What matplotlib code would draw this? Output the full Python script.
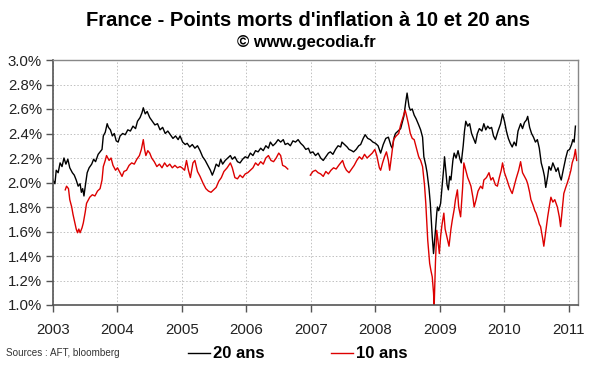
import numpy as np
import matplotlib
matplotlib.use("Agg")
from matplotlib import pyplot as plt

plt.rcParams['font.family'] = ['Liberation Sans', 'DejaVu Sans']

# point mort 20 ans (year, %)
years_20 = [
    2003.00, 2003.03, 2003.05, 2003.08, 2003.11, 2003.14, 2003.17, 2003.20, 2003.23, 2003.26,
    2003.30, 2003.33, 2003.36, 2003.39, 2003.42, 2003.44, 2003.46, 2003.48, 2003.50, 2003.53,
    2003.56, 2003.60, 2003.63, 2003.66, 2003.70, 2003.73, 2003.76, 2003.78, 2003.81, 2003.84,
    2003.86, 2003.89, 2003.92, 2003.95, 2003.98, 2004.01, 2004.04, 2004.08, 2004.12, 2004.16,
    2004.20, 2004.24, 2004.28, 2004.31, 2004.35, 2004.38, 2004.40, 2004.43, 2004.46, 2004.50,
    2004.54, 2004.58, 2004.62, 2004.66, 2004.70, 2004.74, 2004.78, 2004.82, 2004.86, 2004.90,
    2004.94, 2004.97, 2005.01, 2005.05, 2005.08, 2005.12, 2005.16, 2005.20, 2005.24, 2005.28,
    2005.32, 2005.36, 2005.40, 2005.44, 2005.47, 2005.50, 2005.53, 2005.57, 2005.60, 2005.63,
    2005.67, 2005.71, 2005.75, 2005.78, 2005.82, 2005.86, 2005.90, 2005.94, 2005.98, 2006.02,
    2006.06, 2006.10, 2006.14, 2006.18, 2006.22, 2006.26, 2006.30, 2006.34, 2006.37, 2006.41,
    2006.45, 2006.49, 2006.53, 2006.57, 2006.60, 2006.64, 2006.68, 2006.72, 2006.76, 2006.80,
    2006.84, 2006.88, 2006.92, 2006.96, 2006.99, 2007.03, 2007.07, 2007.11, 2007.15, 2007.19,
    2007.23, 2007.27, 2007.30, 2007.34, 2007.38, 2007.42, 2007.46, 2007.48, 2007.52, 2007.56,
    2007.59, 2007.63, 2007.66, 2007.70, 2007.74, 2007.77, 2007.81, 2007.84, 2007.88, 2007.92,
    2007.96, 2008.00, 2008.04, 2008.08, 2008.12, 2008.16, 2008.20, 2008.24, 2008.26, 2008.29,
    2008.31, 2008.35, 2008.39, 2008.42, 2008.44, 2008.47, 2008.49, 2008.52, 2008.54, 2008.57,
    2008.60, 2008.63, 2008.67, 2008.70, 2008.73, 2008.75, 2008.78, 2008.80, 2008.83, 2008.85,
    2008.87, 2008.88, 2008.90, 2008.91, 2008.93, 2008.95, 2008.96, 2008.98, 2009.01, 2009.03,
    2009.06, 2009.07, 2009.09, 2009.11, 2009.13, 2009.15, 2009.17, 2009.20, 2009.22, 2009.25,
    2009.28, 2009.31, 2009.33, 2009.36, 2009.38, 2009.40, 2009.43, 2009.46, 2009.49, 2009.52,
    2009.55, 2009.58, 2009.61, 2009.65, 2009.68, 2009.71, 2009.74, 2009.77, 2009.80, 2009.83,
    2009.86, 2009.90, 2009.94, 2009.97, 2010.00, 2010.03, 2010.06, 2010.09, 2010.12, 2010.15,
    2010.18, 2010.21, 2010.25, 2010.28, 2010.31, 2010.34, 2010.36, 2010.39, 2010.42, 2010.45,
    2010.48, 2010.51, 2010.54, 2010.57, 2010.60, 2010.62, 2010.64, 2010.67, 2010.69, 2010.72,
    2010.75, 2010.78, 2010.80, 2010.83, 2010.86, 2010.88, 2010.91, 2010.95, 2010.98, 2011.01,
    2011.04, 2011.06, 2011.08, 2011.10,
]
values_20 = [
    2.02, 1.99, 2.10, 2.08, 2.16, 2.13, 2.20, 2.15, 2.19, 2.12,
    2.08, 2.06, 2.02, 1.97, 1.99, 1.92, 1.95, 1.89, 1.97, 2.08,
    2.12, 2.15, 2.19, 2.17, 2.23, 2.25, 2.27, 2.38, 2.41, 2.48,
    2.45, 2.43, 2.38, 2.40, 2.34, 2.33, 2.38, 2.40, 2.39, 2.43,
    2.42, 2.46, 2.44, 2.50, 2.53, 2.57, 2.61, 2.56, 2.58, 2.53,
    2.50, 2.47, 2.48, 2.43, 2.45, 2.40, 2.42, 2.39, 2.36, 2.38,
    2.35, 2.38, 2.33, 2.31, 2.32, 2.29, 2.31, 2.28, 2.30, 2.26,
    2.21, 2.18, 2.14, 2.10, 2.06, 2.10, 2.15, 2.13, 2.19, 2.15,
    2.18, 2.20, 2.22, 2.19, 2.21, 2.17, 2.16, 2.19, 2.21, 2.20,
    2.24, 2.22, 2.26, 2.25, 2.28, 2.26, 2.30, 2.28, 2.33, 2.30,
    2.32, 2.35, 2.33, 2.35, 2.31, 2.32, 2.30, 2.34, 2.33, 2.35,
    2.32, 2.30, 2.27, 2.28, 2.24, 2.25, 2.22, 2.24, 2.20, 2.18,
    2.21, 2.24, 2.25, 2.23, 2.27, 2.30, 2.29, 2.33, 2.31, 2.29,
    2.27, 2.26, 2.25, 2.27, 2.30, 2.31, 2.36, 2.39, 2.36, 2.35,
    2.33, 2.32, 2.30, 2.24, 2.31, 2.36, 2.37, 2.30, 2.28, 2.37,
    2.40, 2.42, 2.44, 2.50, 2.54, 2.66, 2.73, 2.62, 2.59, 2.60,
    2.55, 2.52, 2.47, 2.43, 2.37, 2.21, 2.14, 2.08, 1.95, 1.83,
    1.65, 1.56, 1.42, 1.48, 1.61, 1.75, 1.80, 1.77, 1.83, 1.95,
    2.13, 2.21, 2.10, 1.98, 1.94, 2.05, 2.02, 2.18, 2.24, 2.20,
    2.26, 2.19, 2.16, 2.30, 2.42, 2.50, 2.46, 2.48, 2.40, 2.36,
    2.32, 2.40, 2.44, 2.42, 2.48, 2.43, 2.46, 2.44, 2.45, 2.38,
    2.35, 2.42, 2.48, 2.56, 2.50, 2.42, 2.36, 2.32, 2.29, 2.33,
    2.30, 2.42, 2.48, 2.44, 2.49, 2.51, 2.54, 2.45, 2.40, 2.37,
    2.33, 2.35, 2.28, 2.16, 2.10, 2.05, 1.96, 2.05, 2.13, 2.10,
    2.16, 2.12, 2.09, 2.12, 2.05, 2.02, 2.10, 2.20, 2.26, 2.27,
    2.31, 2.35, 2.33, 2.46,
]

# point mort 10 ans (year, %), nan = missing data
years_10 = [
    2003.19, 2003.21, 2003.24, 2003.26, 2003.29, 2003.31, 2003.34, 2003.36, 2003.38, 2003.40,
    2003.42, 2003.45, 2003.47, 2003.50, 2003.52, 2003.55, 2003.57, 2003.61, 2003.65, 2003.69,
    2003.73, 2003.76, 2003.78, 2003.81, 2003.83, 2003.87, 2003.90, 2003.93, 2003.97, 2004.00,
    2004.04, 2004.07, 2004.10, 2004.14, 2004.18, 2004.22, 2004.26, 2004.30, 2004.34, 2004.37,
    2004.40, 2004.42, 2004.44, 2004.47, 2004.50, 2004.53, 2004.57, 2004.61, 2004.65, 2004.69,
    2004.73, 2004.77, 2004.81, 2004.85, 2004.89, 2004.93, 2004.97, 2005.00, 2005.04, 2005.07,
    2005.10, 2005.13, 2005.17, 2005.20, 2005.24, 2005.28, 2005.33, 2005.37, 2005.41, 2005.45,
    2005.49, 2005.53, 2005.57, 2005.61, 2005.65, 2005.70, 2005.75, 2005.78, 2005.82, 2005.86,
    2005.90, 2005.94, 2005.98, 2006.02, 2006.06, 2006.10, 2006.14, 2006.18, 2006.22, 2006.26,
    2006.30, 2006.34, 2006.38, 2006.42, 2006.46, 2006.50, 2006.53, 2006.56, 2006.60, 2006.64,
    2006.80,
    2006.99, 2007.03, 2007.07, 2007.11, 2007.15, 2007.19, 2007.23, 2007.27, 2007.31, 2007.35,
    2007.39, 2007.43, 2007.46, 2007.49, 2007.52, 2007.55, 2007.59, 2007.63, 2007.67, 2007.71,
    2007.75, 2007.79, 2007.83, 2007.87, 2007.91, 2007.95, 2007.99, 2008.02, 2008.06, 2008.08,
    2008.11, 2008.14, 2008.17, 2008.20, 2008.22, 2008.25, 2008.28, 2008.32, 2008.36, 2008.39,
    2008.43, 2008.46, 2008.48, 2008.51, 2008.54, 2008.57, 2008.60, 2008.64, 2008.67, 2008.70,
    2008.73, 2008.76, 2008.78, 2008.81, 2008.84, 2008.86, 2008.88, 2008.90, 2008.91, 2008.93,
    2008.95, 2008.97, 2008.99, 2009.01, 2009.03, 2009.06, 2009.08, 2009.11, 2009.14, 2009.17,
    2009.19, 2009.22, 2009.24, 2009.27, 2009.29, 2009.32, 2009.35, 2009.37, 2009.40, 2009.43,
    2009.46, 2009.48, 2009.51, 2009.53, 2009.56, 2009.59, 2009.63, 2009.66, 2009.68, 2009.72,
    2009.76, 2009.79, 2009.82, 2009.86, 2009.89, 2009.92, 2009.95, 2009.97, 2010.00, 2010.04,
    2010.07, 2010.10, 2010.12, 2010.15, 2010.18, 2010.22, 2010.25, 2010.28, 2010.31, 2010.34,
    2010.36, 2010.39, 2010.41, 2010.44, 2010.47, 2010.49, 2010.52, 2010.54, 2010.56, 2010.59,
    2010.61, 2010.64, 2010.67, 2010.70, 2010.72, 2010.75, 2010.78, 2010.82, 2010.85, 2010.87,
    2010.90, 2010.92, 2010.95, 2010.97, 2011.00, 2011.03, 2011.05, 2011.08, 2011.10, 2011.12,
]
values_10 = [
    1.94, 1.97, 1.95, 1.86, 1.80, 1.74, 1.67, 1.62, 1.59, 1.62,
    1.59, 1.63, 1.67, 1.76, 1.83, 1.86, 1.88, 1.90, 1.89, 1.93,
    1.95, 2.02, 2.13, 2.18, 2.22, 2.18, 2.20, 2.14, 2.10, 2.12,
    2.08, 2.05, 2.09, 2.10, 2.14, 2.16, 2.15, 2.19, 2.22, 2.27,
    2.35, 2.27, 2.22, 2.26, 2.24, 2.20, 2.17, 2.13, 2.15, 2.12,
    2.16, 2.13, 2.15, 2.12, 2.14, 2.12, 2.13, 2.12, 2.10, 2.18,
    2.10, 2.04, 2.16, 2.18, 2.09, 2.05, 1.99, 1.95, 1.93, 1.92,
    1.94, 1.96, 2.01, 2.04, 2.09, 2.12, 2.16, 2.12, 2.04, 2.03,
    2.06, 2.04, 2.07, 2.08, 2.10, 2.12, 2.16, 2.14, 2.17, 2.15,
    2.20, 2.22, 2.18, 2.17, 2.20, 2.24, 2.22, 2.14, 2.13, 2.11,
    np.nan,
    2.06, 2.09, 2.10, 2.08, 2.07, 2.05, 2.09, 2.07, 2.10, 2.12,
    2.11, 2.14, 2.16, 2.18, 2.13, 2.10, 2.08, 2.11, 2.14, 2.18,
    2.21, 2.19, 2.23, 2.20, 2.22, 2.24, 2.27, 2.22, 2.12, 2.10,
    2.16, 2.21, 2.25, 2.18, 2.10, 2.22, 2.35, 2.38, 2.40, 2.47,
    2.54, 2.59, 2.55, 2.48, 2.40, 2.36, 2.35, 2.27, 2.21, 2.18,
    2.13, 1.98, 1.83, 1.53, 1.34, 1.28, 1.23, 1.10, 0.99, 1.35,
    1.61, 1.52, 1.42, 1.56, 1.65, 1.75, 1.62, 1.55, 1.48, 1.62,
    1.69, 1.78, 1.86, 1.94, 1.80, 1.72, 1.95, 2.16, 2.10, 2.04,
    2.00, 1.97, 1.88, 1.80, 1.86, 1.93, 1.97, 1.95, 2.02, 2.04,
    2.08, 2.02, 2.04, 1.98, 1.97, 2.04, 2.10, 2.16, 2.08, 2.02,
    1.97, 1.93, 1.91, 1.97, 2.03, 2.10, 2.17, 2.08, 2.05, 2.02,
    1.99, 1.92, 1.86, 1.82, 1.77, 1.75, 1.70, 1.66, 1.64, 1.55,
    1.48, 1.60, 1.72, 1.82, 1.88, 1.84, 1.86, 1.80, 1.72, 1.64,
    1.80, 1.91, 1.96, 1.99, 2.04, 2.10, 2.16, 2.21, 2.27, 2.18,
]

year_ticks = list(range(2003, 2012))
pct_ticks = [1.0, 1.2, 1.4, 1.6, 1.8, 2.0, 2.2, 2.4, 2.6, 2.8, 3.0]


def main():
    fig = plt.figure(figsize=(6.0, 3.72), dpi=100)
    ax = fig.add_axes([53 / 600, 67 / 372, 525 / 600, 245 / 372])

    ax.plot(years_20, values_20, color="black", lw=1.0, label="20 ans")
    ax.plot(years_10, values_10, color="#dd0000", lw=1.0, label="10 ans")

    ax.set_xlim(2003, 2011.14)
    ax.set_ylim(1.0, 3.0)
    ax.set_xticks(year_ticks)
    ax.set_xticklabels([str(y) for y in year_ticks])
    ax.set_yticks(pct_ticks)
    ax.set_yticklabels(["%.1f%%" % p for p in pct_ticks])

    ax.grid(True, color="#c0c0c0", linestyle=(0, (1.5, 2)), lw=0.7)
    ax.tick_params(axis="both", direction="out", length=5, width=1,
                   color="#555555", labelsize=10.8, labelcolor="#222222")
    ax.tick_params(axis="x", pad=8)
    ax.tick_params(axis="y", pad=3)
    for side in ["left", "bottom"]:
        ax.spines[side].set_color("#555555")
        ax.spines[side].set_linewidth(1.2)
    for side in ["top", "right"]:
        ax.spines[side].set_color("#888888")
        ax.spines[side].set_linewidth(1.0)

    fig.text(308 / 600, 1 - 20 / 372, "France - Points morts d'inflation à 10 et 20 ans",
             ha="center", va="center", fontsize=14.5, fontweight="bold")
    fig.text(306 / 600, 1 - 43 / 372, "© www.gecodia.fr",
             ha="center", va="center", fontsize=12.0, fontweight="bold")
    fig.text(6 / 600, 19 / 372, "Sources : AFT, bloomberg",
             ha="left", va="center", fontsize=7.1, color="#333333")

    fig.legend(loc="center left", bbox_to_anchor=(188 / 600, 18 / 372), ncol=2,
               frameon=False, handlelength=1.3, handletextpad=0.2,
               columnspacing=4.0, borderpad=0, borderaxespad=0,
               prop={"size": 12, "weight": "bold"})

    fig.savefig("out.png", dpi=100)


if __name__ == "__main__":
    main()
